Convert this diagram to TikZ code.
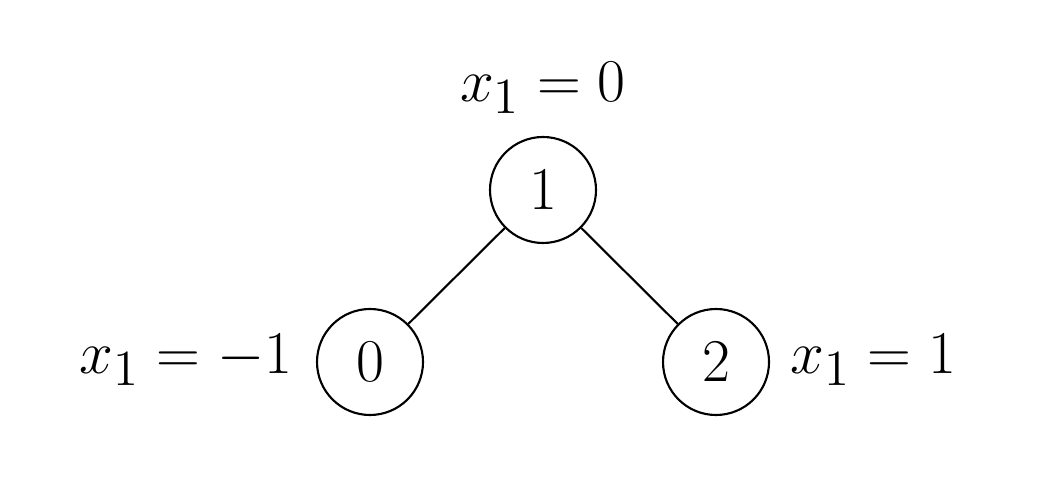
\documentclass[tikz,border=0pt]{standalone}
\begin{document}
\begin{tikzpicture}[
  vert/.style={circle,draw,line width=0.6pt,minimum size=1.06cm,inner sep=0pt,font=\fontsize{19}{22}\selectfont},
  lab/.style={font=\fontsize{19}{22}\selectfont,inner sep=0pt}]
\useasboundingbox (0,0) rectangle (10.52,-4.86);
\node[vert] (n1) at (5.43,-1.90) {$1$};
\node[vert] (n0) at (3.70,-3.62) {$0$};
\node[vert] (n2) at (7.16,-3.62) {$2$};
\draw[line width=0.6pt] (n1) -- (n0);
\draw[line width=0.6pt] (n1) -- (n2);
\node[lab] (l1) at (5.43,-0.88) {$x_1=0$};
\node[lab,anchor=east] (l0) at (2.93,-3.60) {$x_1=-1$};
\node[lab,anchor=west] (l2) at (7.90,-3.60) {$x_1=1$};
\end{tikzpicture}
\end{document}
